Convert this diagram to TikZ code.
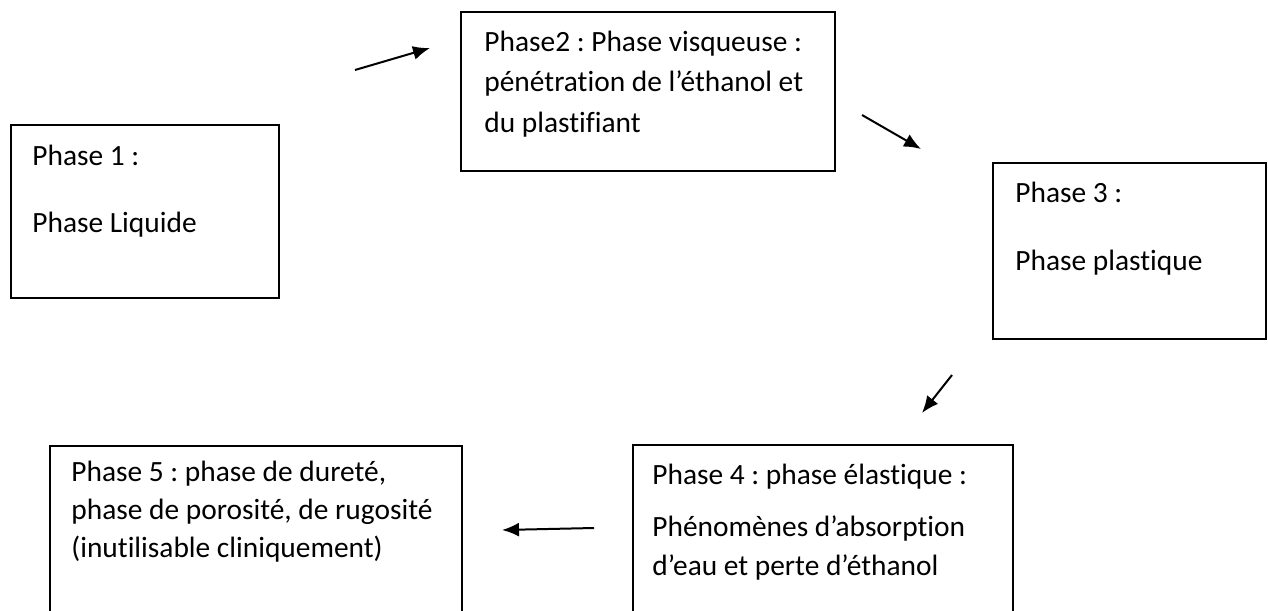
\documentclass[tikz,border=0pt]{standalone}
\usepackage{fontspec}
\setmainfont[Ligatures=CommonOff]{Carlito}
\frenchspacing
\usetikzlibrary{arrows.meta}
\begin{document}
\begin{tikzpicture}[x=0.5pt,y=-0.5pt,>={Latex[length=8.5pt,width=7pt]},
  phasebox/.style={draw,line width=1pt},
  phaseline/.style={anchor=base west,inner sep=0pt,font=\fontsize{14.7}{17}\selectfont},
  flow/.style={->,line width=1pt}]
  \useasboundingbox (0,0) rectangle (1268,610);
  \clip (0,0) rectangle (1268,610);
  % phase 1
  \draw[phasebox] (11,125) rectangle (279,298);
  \node[phaseline] (p1a) at (32,165) {Phase 1 :};
  \node[phaseline] (p1b) at (32,232) {Phase Liquide};
  % phase 2
  \draw[phasebox] (461,12) rectangle (835,171);
  \node[phaseline] (p2a) at (484,52) {Phase2 : Phase visqueuse :};
  \node[phaseline] (p2b) at (484,92) {pénétration de l’éthanol et};
  \node[phaseline] (p2c) at (484,133) {du plastifiant};
  % phase 3
  \draw[phasebox] (993,163) rectangle (1266,339);
  \node[phaseline] (p3a) at (1015,202) {Phase 3 :};
  \node[phaseline] (p3b) at (1015,270) {Phase plastique};
  % phase 4 (runs past the bottom)
  \draw[phasebox] (633,445) rectangle (1013,640);
  \node[phaseline] (p4a) at (652,484) {Phase 4 : phase élastique :};
  \node[phaseline] (p4b) at (652,536) {Phénomènes d’absorption};
  \node[phaseline] (p4c) at (652,575) {d’eau et perte d’éthanol};
  % phase 5 (runs past the bottom)
  \draw[phasebox] (50,446) rectangle (462,640);
  \node[phaseline] (p5a) at (71,481) {Phase 5 : phase de dureté,};
  \node[phaseline] (p5b) at (71,519) {phase de porosité, de rugosité};
  \node[phaseline] (p5c) at (71,557) {(inutilisable cliniquement)};
  % arrows
  \coordinate (f1s) at (355,70);
  \coordinate (f1e) at (430,48);
  \coordinate (f2s) at (862,115);
  \coordinate (f2e) at (921,149);
  \coordinate (f3s) at (952,375);
  \coordinate (f3e) at (922,413);
  \coordinate (f4s) at (594,528);
  \coordinate (f4e) at (502,530);
  \draw[flow] (f1s) -- (f1e);
  \draw[flow] (f2s) -- (f2e);
  \draw[flow] (f3s) -- (f3e);
  \draw[flow] (f4s) -- (f4e);
\end{tikzpicture}
\end{document}
